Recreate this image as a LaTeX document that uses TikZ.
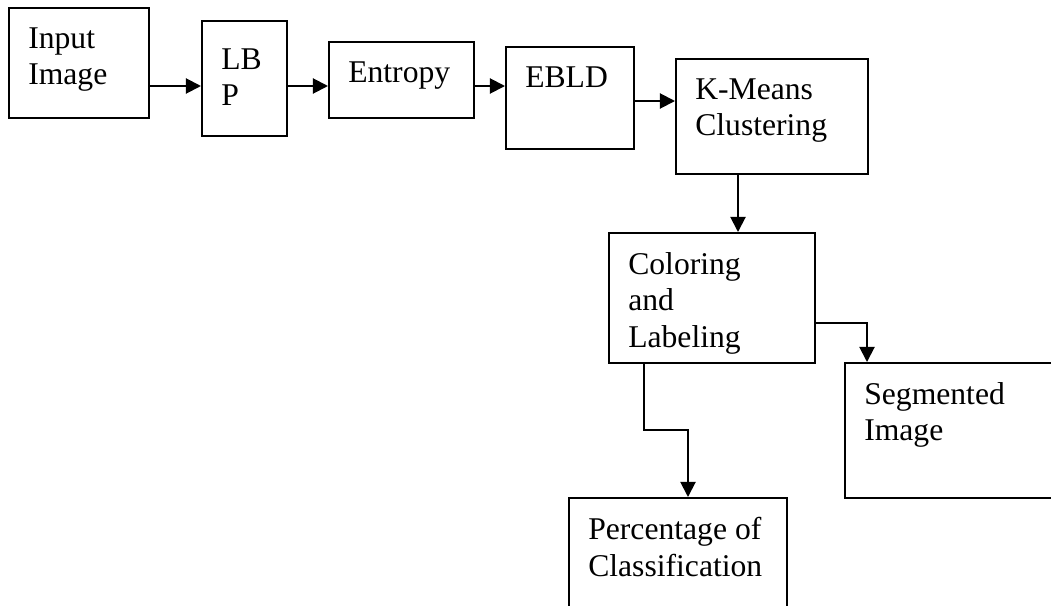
\documentclass[tikz,border=0pt]{standalone}
\usepackage{fontspec}
\setmainfont{Liberation Serif}
\usepackage{tikz}
\usetikzlibrary{arrows.meta, positioning, calc}
\tikzset{
  box/.style={rectangle, draw=black, line width=1.4pt, anchor=north west,
    inner sep=0pt},
  lbl/.style={anchor=north west, inner sep=0pt, align=left,
    font=\fontsize{22.5pt}{26pt}\selectfont, xshift=0.5cm, yshift=-0.5cm},
  arrow/.style={-{Triangle[length=0.38cm, width=0.38cm]}, line width=1.4pt, color=black}
}

\begin{document}
\begin{tikzpicture}[x=0.025cm, y=-0.025cm]
  % Frame
  \useasboundingbox (0,0) rectangle (1051,605);
  \clip (0,0) rectangle (1051,605);

  % Blocks (sizes in px of the page)
  \node[box, minimum width=140*0.025cm, minimum height=110*0.025cm,
    label={[lbl]north west:Input\\Image}] (inp) at (8,7) {};
  \node[box, minimum width=85*0.025cm, minimum height=115*0.025cm,
    label={[lbl, yshift=-0.2cm]north west:LB\\P}] (lbp) at (201,20) {};
  \node[box, minimum width=145*0.025cm, minimum height=76*0.025cm,
    label={[lbl]north west:Entropy}] (ent) at (328,41) {};
  \node[box, minimum width=128*0.025cm, minimum height=102*0.025cm,
    label={[lbl]north west:EBLD}] (ebld) at (505,46) {};
  \node[box, minimum width=192*0.025cm, minimum height=115*0.025cm,
    label={[lbl]north west:K-Means\\Clustering}] (km) at (675,58) {};
  \node[box, minimum width=206*0.025cm, minimum height=130*0.025cm,
    label={[lbl]north west:Coloring\\and\\Labeling}] (col) at (608,232) {};
  \node[box, minimum width=250*0.025cm, minimum height=135*0.025cm,
    label={[lbl]north west:Segmented\\Image}] (seg) at (844,362) {};
  \node[box, minimum width=218*0.025cm, minimum height=160*0.025cm,
    label={[lbl]north west:Percentage of\\Classification}] (pct) at (568,497) {};

  % Arrows
  \draw[arrow] (inp.east |- 0,86) -- (lbp.west |- 0,86);
  \draw[arrow] (lbp.east |- 0,86) -- (ent.west |- 0,86);
  \draw[arrow] (ent.east |- 0,86) -- (ebld.west |- 0,86);
  \draw[arrow] (ebld.east |- 0,101) -- (km.west |- 0,101);
  \draw[arrow] (km.south -| 738,0) -- (col.north -| 738,0);
  \draw[arrow] (col.east |- 0,323) -| (seg.north -| 867,0);
  \draw[arrow] (col.south -| 644,0) |- (688,430) -- (pct.north -| 688,0);
\end{tikzpicture}
\end{document}
